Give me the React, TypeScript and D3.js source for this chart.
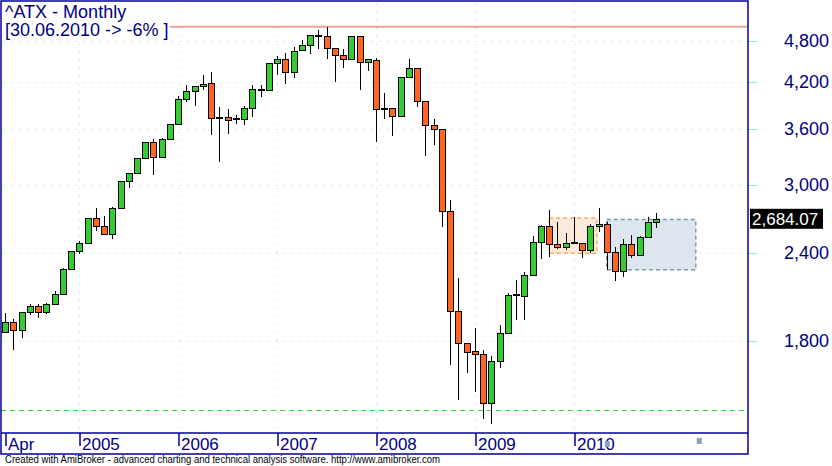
import React from 'react';
import * as d3 from 'd3';

// monthly ATX bars, Apr 2004 .. Nov 2010
const opens = [1853, 1915, 1865, 1979, 2018, 1976, 2031, 2099, 2278, 2417, 2481, 2693, 2623, 2555, 2783, 3040, 3121, 3278, 3455, 3285,
  3489, 3660, 3965, 4070, 4138, 4178, 3733, 3738, 3717, 3720, 3862, 4088, 4084, 4462, 4521, 4332, 4656, 4733, 4880, 4874,
  4687, 4580, 4521, 4874, 4476, 4506, 3837, 3862, 3762, 4261, 4389, 3939, 3653, 3605, 2755, 1985, 1787, 1741, 1724, 1468,
  1685, 1847, 2089, 2082, 2234, 2489, 2623, 2473, 2449, 2481, 2481, 2425, 2623, 2641, 2409, 2263, 2473, 2385, 2530, 2658];
const highs = [1972, 1934, 1979, 2033, 2033, 2038, 2122, 2288, 2417, 2500, 2693, 2785, 2713, 2794, 3040, 3121, 3278, 3455, 3489, 3501,
  3665, 4004, 4155, 4138, 4294, 4336, 3870, 3849, 3766, 3879, 4155, 4155, 4462, 4570, 4615, 4711, 4816, 4891, 4976, 5030,
  4687, 4676, 4874, 4874, 4521, 4535, 4047, 3862, 4261, 4521, 4389, 3939, 3717, 3605, 2856, 2212, 1787, 1877, 1747, 1713,
  1898, 2106, 2200, 2258, 2541, 2634, 2758, 2652, 2564, 2696, 2481, 2641, 2785, 2658, 2449, 2514, 2547, 2539, 2702, 2738];
const lows = [1853, 1747, 1817, 1957, 1940, 1969, 2031, 2099, 2278, 2393, 2481, 2577, 2547, 2510, 2783, 2967, 3121, 3278, 3096, 3285,
  3489, 3648, 3934, 3883, 4091, 3527, 3231, 3542, 3660, 3645, 3745, 3999, 4084, 4298, 4173, 4256, 4641, 4604, 4680, 4529,
  4200, 4398, 4521, 4091, 4355, 3450, 3720, 3519, 3762, 4261, 3870, 3295, 3417, 2611, 1666, 1483, 1623, 1525, 1393, 1370,
  1650, 1847, 1931, 1931, 2234, 2351, 2366, 2430, 2421, 2473, 2359, 2398, 2572, 2271, 2187, 2216, 2359, 2385, 2530, 2606];
const closes = [1915, 1865, 1979, 2018, 1979, 2031, 2099, 2278, 2417, 2481, 2693, 2623, 2555, 2783, 3040, 3121, 3278, 3455, 3285, 3489,
  3665, 3965, 4074, 4138, 4165, 3733, 3733, 3713, 3717, 3862, 4097, 4088, 4462, 4521, 4332, 4641, 4733, 4891, 4880, 4687,
  4580, 4521, 4874, 4476, 4521, 3837, 3862, 3762, 4261, 4389, 3939, 3653, 3605, 2755, 1985, 1787, 1735, 1724, 1468, 1685,
  1847, 2092, 2089, 2234, 2489, 2623, 2473, 2449, 2481, 2481, 2425, 2623, 2641, 2409, 2263, 2473, 2385, 2530, 2658, 2684.07];

const months = d3.timeMonth.range(new Date(2004, 3, 1), new Date(2010, 11, 1));
const yTicks = [1800, 2400, 3000, 3600, 4200, 4800];

const highLevel = 5030;     // red line
const supportLevel = 1435;  // green dashed line
// boxes: [from bar, to bar, low price, high price]
const orangeBox = [66, 71.8, 2398, 2690];
const blueBox = [73, 83.8, 2272, 2678];

const titleText = '^ATX - Monthly';
const subTitle = '[30.06.2010 -> -6% ]';
const footer = 'Created with AmiBroker - advanced charting and technical analysis software. http://www.amibroker.com';

const font = '"Liberation Sans", Arial, sans-serif';
const navy = '#000080';
const border = '#000099';
const gridColor = '#8ee6e6';
const upColor = '#33cc33';
const downColor = '#ff6622';

export default function App() {
  const plotLeft = 1, plotRight = 748, plotTop = 1, plotBottom = 433, axisBottom = 454;

  const x = d3.scaleLinear().domain([-0.5, 90.5]).range([1, 751]);
  const y = d3.scaleLog().domain([1800, 4800]).range([341, 41]);

  const yearTicks = months.map((d, i) => ({ d, i })).filter(m => m.i === 0 || m.d.getMonth() === 0);
  const fmt = (m) => m.i === 0 ? d3.timeFormat('%b')(m.d) : d3.timeFormat('%Y')(m.d);
  const last = closes[closes.length - 1];

  const box = (b, fill, stroke) => (
    <rect x={x(b[0])} y={y(b[3])} width={x(b[1]) - x(b[0])} height={y(b[2]) - y(b[3])}
      fill={fill} stroke={stroke} strokeWidth={1.5} strokeDasharray="4,3" />
  );

  return (
    <svg width={832} height={466} style={{ position: 'absolute', left: 0, top: 0, background: '#fff' }}
      fontFamily={font}>
      <rect x={0} y={0} width={832} height={466} fill="#fff" />

      {/* grid */}
      {yTicks.map(t => (
        <g key={t}>
          <line x1={plotLeft + 3} x2={plotRight} y1={Math.round(y(t)) + 0.5} y2={Math.round(y(t)) + 0.5}
            stroke={gridColor} strokeDasharray="1,7" />
          <line x1={plotRight} x2={plotRight + 9} y1={Math.round(y(t)) + 0.5} y2={Math.round(y(t)) + 0.5}
            stroke={gridColor} />
        </g>
      ))}
      {yearTicks.filter(m => m.i > 0).map(m => (
        <line key={m.i} x1={Math.round(x(m.i)) + 0.5} x2={Math.round(x(m.i)) + 0.5} y1={plotTop + 3} y2={plotBottom}
          stroke={gridColor} strokeDasharray="1,7" />
      ))}

      {box(orangeBox, '#fde9d9', '#ffaa66')}
      {box(blueBox, '#dde5ee', '#7f97b5')}

      <line x1={plotLeft} x2={plotRight} y1={y(highLevel)} y2={y(highLevel)} stroke="#f0a496" strokeWidth={2} />
      <line x1={plotLeft} x2={plotRight} y1={Math.round(y(supportLevel)) + 0.5} y2={Math.round(y(supportLevel)) + 0.5}
        stroke="#33dd33" strokeDasharray="5,4" />

      {/* candles */}
      {closes.map((c, i) => {
        const o = opens[i];
        const cx = Math.round(x(i));
        const top = Math.round(y(Math.max(o, c)));
        const bot = Math.round(y(Math.min(o, c)));
        const doji = o === c;
        return (
          <g key={i}>
            <line x1={cx + 0.5} x2={cx + 0.5} y1={Math.round(y(highs[i]))} y2={Math.round(y(lows[i]))} stroke="#000" />
            {doji
              ? <rect x={cx - 3} y={top - 1} width={7} height={2} fill="#000" />
              : <rect x={cx - 2.5} y={top + 0.5} width={6} height={Math.max(bot - top, 1)}
                  fill={c > o ? upColor : downColor} stroke="#000" />}
          </g>
        );
      })}

      {/* title */}
      <rect x={2} y={2} width={168} height={38} fill="#fff" />
      <text x={5} y={18} fontSize={18} fill={navy}>{titleText}</text>
      <text x={5} y={36} fontSize={18} fill={navy}>{subTitle}</text>

      {/* frame */}
      <rect x={plotLeft} y={plotTop} width={plotRight - plotLeft} height={axisBottom - plotTop}
        fill="none" stroke={border} strokeWidth={1.5} />
      <line x1={plotLeft} x2={plotRight} y1={plotBottom} y2={plotBottom} stroke={border} strokeWidth={1.5} />

      {/* x axis */}
      {yearTicks.map(m => (
        <g key={m.i}>
          <line x1={Math.round(x(m.i)) + 1} x2={Math.round(x(m.i)) + 1} y1={plotBottom} y2={plotBottom + 13}
            stroke={border} strokeWidth={1.5} />
          <text x={Math.round(x(m.i)) + 3} y={450} fontSize={17} fill={navy}>{fmt(m)}</text>
        </g>
      ))}
      <rect x={x(blueBox[0]) - 2} y={441} width={5} height={6} fill="#8aa2c2" />
      <rect x={x(blueBox[1]) + 1} y={438} width={5} height={6} fill="#8aa2c2" />

      {/* y axis */}
      {yTicks.map(t => (
        <text key={t} x={829} y={y(t)} dy="0.36em" textAnchor="end" fontSize={18} fill={navy}>
          {d3.format(',')(t)}
        </text>
      ))}
      <rect x={750} y={y(last) - 10} width={73} height={20} fill="#000" />
      <text x={752} y={y(last)} dy="0.36em" fontSize={17} fill="#fff">{d3.format(',.2f')(last)}</text>

      <text x={5} y={463} fontSize={10} textLength={435} lengthAdjust="spacingAndGlyphs" fill="#000">{footer}</text>
    </svg>
  );
}
